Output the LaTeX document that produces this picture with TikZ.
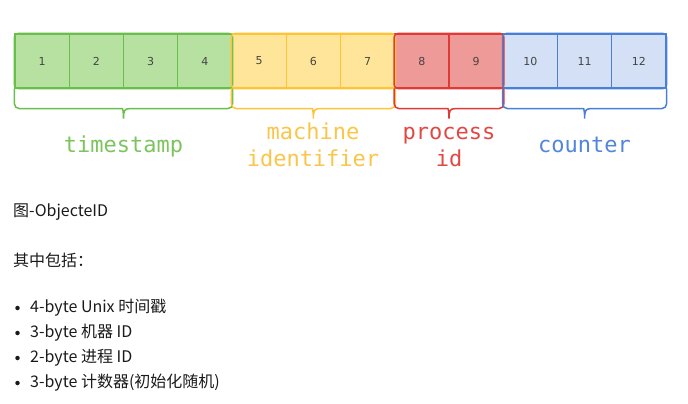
\documentclass[tikz,border=0pt]{standalone}
\usepackage{fontspec}
\usetikzlibrary{calc}
\setmainfont{Noto Sans CJK SC}
\newfontfamily\monofnt{DejaVu Sans Mono}
\newfontfamily\numfnt{DejaVu Sans}
\definecolor{gfill}{HTML}{B7E1A1}
\definecolor{gline}{HTML}{6ABF4B}
\definecolor{gtext}{HTML}{7CC45E}
\definecolor{yfill}{HTML}{FFE599}
\definecolor{yline}{HTML}{FFC436}
\definecolor{ytext}{HTML}{FAC548}
\definecolor{rfill}{HTML}{EE9A98}
\definecolor{rline}{HTML}{DF3A36}
\definecolor{rtext}{HTML}{E04844}
\definecolor{bfill}{HTML}{D3E0F5}
\definecolor{bline}{HTML}{4A7FD8}
\definecolor{btext}{HTML}{5286DA}
\definecolor{numcol}{HTML}{444444}
\definecolor{bodytext}{HTML}{1A1A1A}
\begin{document}
\begin{tikzpicture}[x=1pt,y=-1pt,
  cell/.style={draw, line width=1.3pt, minimum width=54.25pt, minimum height=54pt, inner sep=0pt,
    font=\numfnt\fontsize{11}{13}\selectfont, text=numcol},
  grp/.style={line width=1.5pt, rounded corners=4pt},
  lab/.style={font=\monofnt\fontsize{22}{26}\selectfont, anchor=base, inner sep=0pt},
  body/.style={font=\fontsize{16}{19}\selectfont, text=bodytext, anchor=west, inner sep=0pt},
  bul/.style={circle, fill=bodytext, inner sep=0pt, minimum size=4.5pt}]
\useasboundingbox (0,0) rectangle (688,404);
% cells
\foreach \i/\f/\l in {1/gfill/gline,2/gfill/gline,3/gfill/gline,4/gfill/gline,
  5/yfill/yline,6/yfill/yline,7/yfill/yline,
  8/rfill/rline,9/rfill/rline,
  10/bfill/bline,11/bfill/bline,12/bfill/bline}{
  \node[cell, fill=\f, draw=\l] (c\i) at ({15+54.25*(\i-0.5)},61) {\i};
}
% group outlines
\draw[grp, draw=gline] (c1.north west) rectangle (c4.south east);
\draw[grp, draw=yline] (c5.north west) rectangle (c7.south east);
\draw[grp, draw=rline] (c8.north west) rectangle (c9.south east);
\draw[grp, draw=bline] (c10.north west) rectangle (c12.south east);
% braces
\foreach \a/\b/\c in {c1/c4/gline, c5/c7/yline, c8/c9/rline, c10/c12/bline}{
  \coordinate (m) at ($(\a.south west)!0.5!(\b.south east)$);
  \draw[line width=1.5pt, draw=\c, rounded corners=5pt]
    (\a.south west) -- ($(\a.south west)+(0,20)$) -- ($(m)+(-6,20)$)
    [rounded corners=0pt] .. controls ($(m)+(-1,20)$) and ($(m)+(0,22)$) .. ($(m)+(0,30)$)
    .. controls ($(m)+(0,22)$) and ($(m)+(1,20)$) .. ($(m)+(6,20)$)
    [rounded corners=5pt] -- ($(\b.south east)+(0,20)$) -- (\b.south east);
}
% labels
\node[lab, text=gtext] (ts) at (123.5,152) {timestamp};
\node[lab, text=ytext] (mi1) at (313,139) {machine};
\node[lab, text=ytext] (mi2) at (313,166) {identifier};
\node[lab, text=rtext] (pi1) at (449,139) {process};
\node[lab, text=rtext] (pi2) at (449,166) {id};
\node[lab, text=btext] (ct) at (584.5,152) {counter};
% body text
\node[body] (cap) at (13,212) {图-ObjecteID};
\node[body] (inc) at (13,260) {其中包括：};
\foreach \y/\t [count=\k] in {308/{4-byte Unix 时间戳},333/{3-byte 机器 ID},358/{2-byte 进程 ID},383/{3-byte 计数器(初始化随机)}}{
  \node[bul] (b\k) at (17.5,\y) {};
  \node[body] (it\k) at (30,\y) {\t};
}
\end{tikzpicture}
\end{document}
